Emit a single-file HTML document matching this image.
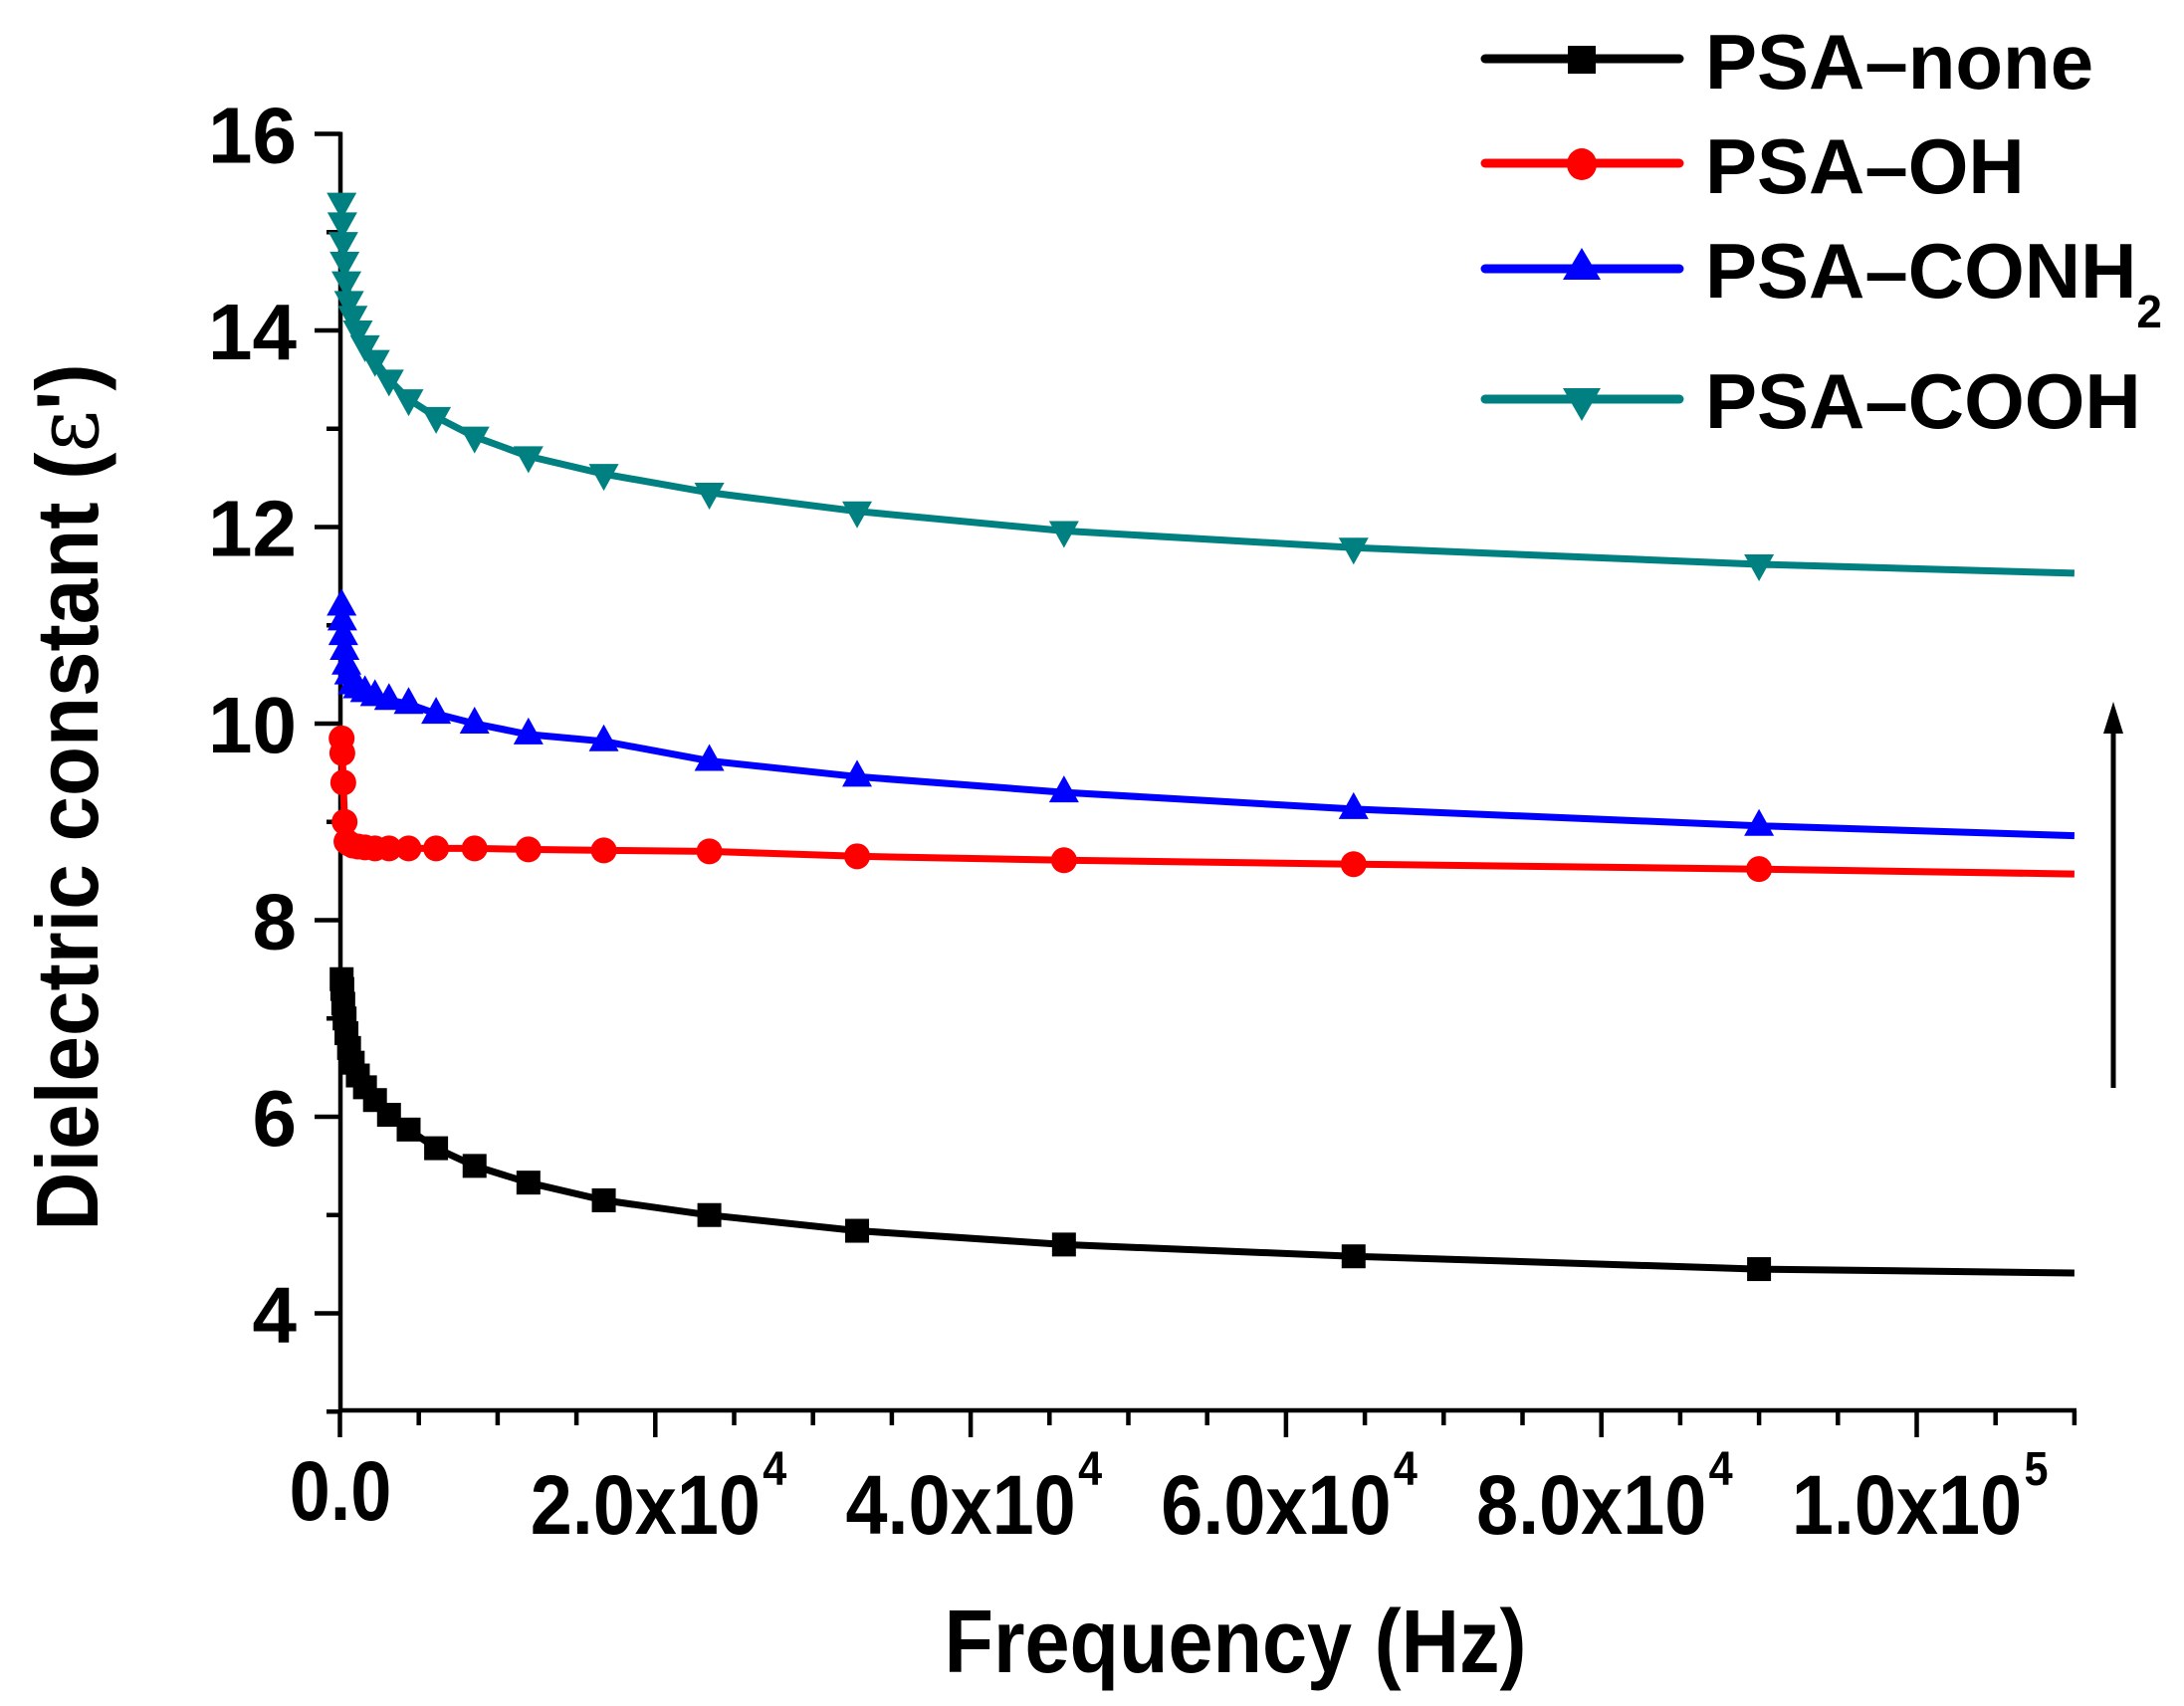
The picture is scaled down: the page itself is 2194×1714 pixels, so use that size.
<!DOCTYPE html>
<html><head><meta charset="utf-8"><style>
html,body{margin:0;padding:0;background:#fff;}
svg{display:block;font-family:"Liberation Sans",Arial,sans-serif;font-weight:bold;}
</style></head><body>
<svg id="s" width="2194" height="1714" viewBox="0 0 2194 1714" xmlns="http://www.w3.org/2000/svg">
<g id="axes" stroke="#000" stroke-width="4.5" fill="none"></g>
<g id="data"></g>
<g font-size="80" fill="#000" id="ylab" text-anchor="end"></g>
<g font-size="84" fill="#000" id="xlab"></g>
<text transform="translate(1241,1680) scale(0.9,1)" font-size="90" text-anchor="middle">Frequency (Hz)</text>
<text transform="translate(98,801) rotate(-90) scale(0.93,1)" font-size="88" text-anchor="middle">Dielectric constant (<tspan font-family="DejaVu Serif,serif" font-weight="normal">ε</tspan>')</text>
<line x1="2123" y1="1093" x2="2123" y2="730" stroke="#000" stroke-width="5"/>
<polygon points="2123,705 2113,737 2133,737" fill="#000"/>
<g font-size="78" fill="#000">
<line x1="1492" y1="59" x2="1687" y2="59" stroke="#000" stroke-width="9" stroke-linecap="round"/>
<rect x="1575" y="46" width="28" height="28" fill="#000"/>
<text x="1713" y="89">PSA–none</text>
<line x1="1492" y1="164" x2="1687" y2="164" stroke="#f00" stroke-width="9" stroke-linecap="round"/>
<ellipse cx="1589" cy="165" rx="15" ry="16" fill="#f00"/>
<text x="1713" y="194">PSA–OH</text>
<line x1="1492" y1="270" x2="1687" y2="270" stroke="#00f" stroke-width="9" stroke-linecap="round"/>
<polygon points="1589,249 1570,281 1608,281" fill="#00f"/>
<text x="1713" y="299">PSA–CONH<tspan font-size="46" dy="30">2</tspan></text>
<line x1="1492" y1="401" x2="1687" y2="401" stroke="#008080" stroke-width="9" stroke-linecap="round"/>
<polygon points="1570,390 1608,390 1589,423" fill="#008080"/>
<text x="1713" y="430">PSA–COOH</text>
</g>
</svg>
<script>
(function(){
var NS="http://www.w3.org/2000/svg";
function el(p,t,a){var e=document.createElementNS(NS,t);for(var k in a)e.setAttribute(k,a[k]);p.appendChild(e);return e;}
var X0=341.5,XS=0.015840,Y16=134.5,YS=98.75;
function X(f){return X0+f*XS;}function Y(v){return Y16+(16-v)*YS;}
var ax=document.getElementById('axes');
el(ax,'line',{x1:342,y1:Y(16)-2,x2:342,y2:1419});
el(ax,'line',{x1:340,y1:1417,x2:2086,y2:1417});
for(var v=3;v<=16;v++){var maj=v%2==0;el(ax,'line',{x1:maj?316:328,y1:Y(v),x2:342,y2:Y(v)});
 if(maj){var t=el(document.getElementById('ylab'),'text',{x:298,y:Y(v)+29});t.textContent=v;}}
for(var i=0;i<=22;i++){var x=X(i*5000);var maj=i%4==0;el(ax,'line',{x1:x,y1:1417,x2:x,y2:maj?1444:1432});}
var xl=document.getElementById('xlab');
var t0=el(xl,'text',{transform:'translate(342,1527) scale(0.88,1)','text-anchor':'middle'});t0.textContent='0.0';
var labs=[['2.0x10','4'],['4.0x10','4'],['6.0x10','4'],['8.0x10','4'],['1.0x10','5']];
for(var j=0;j<5;j++){var cx=X((j+1)*20000);var t=el(xl,'text',{transform:'translate('+(cx-10)+',1541) scale(0.9,1)','text-anchor':'middle'});t.textContent=labs[j][0];
 var s=el(xl,'text',{transform:'translate('+(cx+120)+',1492) scale(0.9,1)','font-size':48,'text-anchor':'middle'});s.textContent=labs[j][1];}
var series=[
 {c:'#000',m:'sq',end:4.41,v:[4.45,4.58,4.70,4.84,5.0,5.15,5.33,5.5,5.68,5.87,6.02,6.17,6.3,6.42,6.55,6.7,6.85,7.0,7.15,7.3,7.4]},
 {c:'#f00',m:'ci',end:8.47,v:[8.52,8.57,8.61,8.65,8.7,8.71,8.72,8.73,8.73,8.73,8.73,8.73,8.74,8.75,8.76,8.78,8.8,9.0,9.4,9.7,9.85]},
 {c:'#00f',m:'up',end:8.86,v:[8.96,9.13,9.3,9.46,9.62,9.82,9.89,10.0,10.1,10.2,10.24,10.28,10.32,10.36,10.4,10.5,10.6,10.75,10.9,11.05,11.2]},
 {c:'#008080',m:'dn',end:11.53,v:[11.62,11.79,11.96,12.16,12.35,12.54,12.72,12.92,13.12,13.3,13.5,13.7,13.85,14.0,14.15,14.3,14.5,14.7,14.9,15.1,15.3]}
];
var g=document.getElementById('data');
series.forEach(function(s){
 var pts=[[X(110000),Y(s.end)]];
 for(var k=0;k<s.v.length;k++){var f=90000/Math.pow(1.4,k);pts.push([X(f),Y(s.v[k])]);}
 var d='M'+pts.map(function(p){return p[0].toFixed(1)+','+p[1].toFixed(1);}).join(' L');
 el(g,'path',{d:d,stroke:s.c,'stroke-width':7,fill:'none','stroke-linejoin':'round'});
 for(var k=1;k<pts.length;k++){var x=pts[k][0],y=pts[k][1];
  if(s.m=='sq')el(g,'rect',{x:x-12,y:y-12,width:24,height:24,fill:s.c});
  else if(s.m=='ci')el(g,'circle',{cx:x,cy:y,r:13,fill:s.c});
  else if(s.m=='up')el(g,'polygon',{points:(x)+','+(y-17)+' '+(x-15)+','+(y+10)+' '+(x+15)+','+(y+10),fill:s.c});
  else el(g,'polygon',{points:(x-15)+','+(y-10)+' '+(x+15)+','+(y-10)+' '+x+','+(y+17),fill:s.c});
 }
});
})();
</script>
</body></html>
